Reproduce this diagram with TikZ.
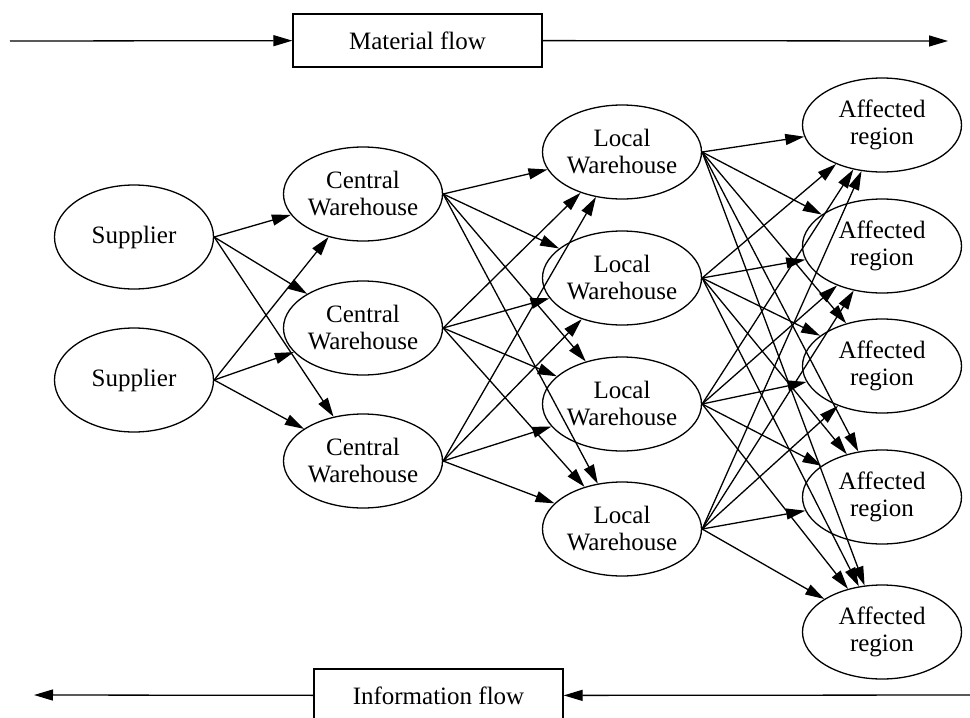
\documentclass[tikz,border=0pt]{standalone}
\usepackage{fontspec}
\setmainfont{Liberation Serif}
\usetikzlibrary{shapes.geometric,arrows.meta}

\begin{document}
\begin{tikzpicture}[x=1pt,y=-1pt,line width=1.3pt,
  place/.style={ellipse,draw,inner sep=0pt,minimum width=159pt,minimum height=94pt,
    align=center,font=\fontsize{25}{27}\selectfont},
  flowbox/.style={rectangle,draw,minimum width=249pt,minimum height=53pt,
    font=\fontsize{25}{27}\selectfont},
  tip/.style={-{Triangle[length=19pt,width=11pt]}}]
\clip (0,0) rectangle (970,718);
% flows
\node[flowbox] (mat) at (417.5,40.5) {Material flow};
\node[flowbox] (inf) at (438.5,695.5) {Information flow};
\coordinate (matin) at (10,41);
\coordinate (matout) at (948,41);
\coordinate (infin) at (975,695);
\coordinate (infout) at (34,695);
\draw[tip] (matin) -- (mat);
\draw[tip] (mat) -- (matout);
\draw[tip] (infin) -- (inf);
\draw[tip] (inf) -- (infout);
% suppliers
\node[place,minimum height=104pt] (s1) at (134,237) {Supplier};
\node[place,minimum height=104pt] (s2) at (134,380) {Supplier};
% central warehouses
\node[place] (c1) at (363,194) {Central\\Warehouse};
\node[place] (c2) at (363,328) {Central\\Warehouse};
\node[place] (c3) at (363,461) {Central\\Warehouse};
% local warehouses
\node[place] (l1) at (622,152) {Local\\Warehouse};
\node[place] (l2) at (622,278) {Local\\Warehouse};
\node[place] (l3) at (622,404) {Local\\Warehouse};
\node[place] (l4) at (622,529) {Local\\Warehouse};
% affected regions
\node[place] (a1) at (882,125) {Affected\\region};
\node[place] (a2) at (882,246) {Affected\\region};
\node[place] (a3) at (882,366) {Affected\\region};
\node[place] (a4) at (882,497) {Affected\\region};
\node[place] (a5) at (882,632) {Affected\\region};
% links
\foreach \s in {s1,s2}
  \foreach \t in {c1,c2,c3}
    \draw[tip] (\s.east) -- (\t);
\foreach \s in {c1,c2,c3}
  \foreach \t in {l1,l2,l3,l4}
    \draw[tip] (\s.east) -- (\t);
\foreach \s in {l1,l2,l3,l4}
  \foreach \t in {a1,a2,a3,a4,a5}
    \draw[tip] (\s.east) -- (\t);
\end{tikzpicture}
\end{document}
